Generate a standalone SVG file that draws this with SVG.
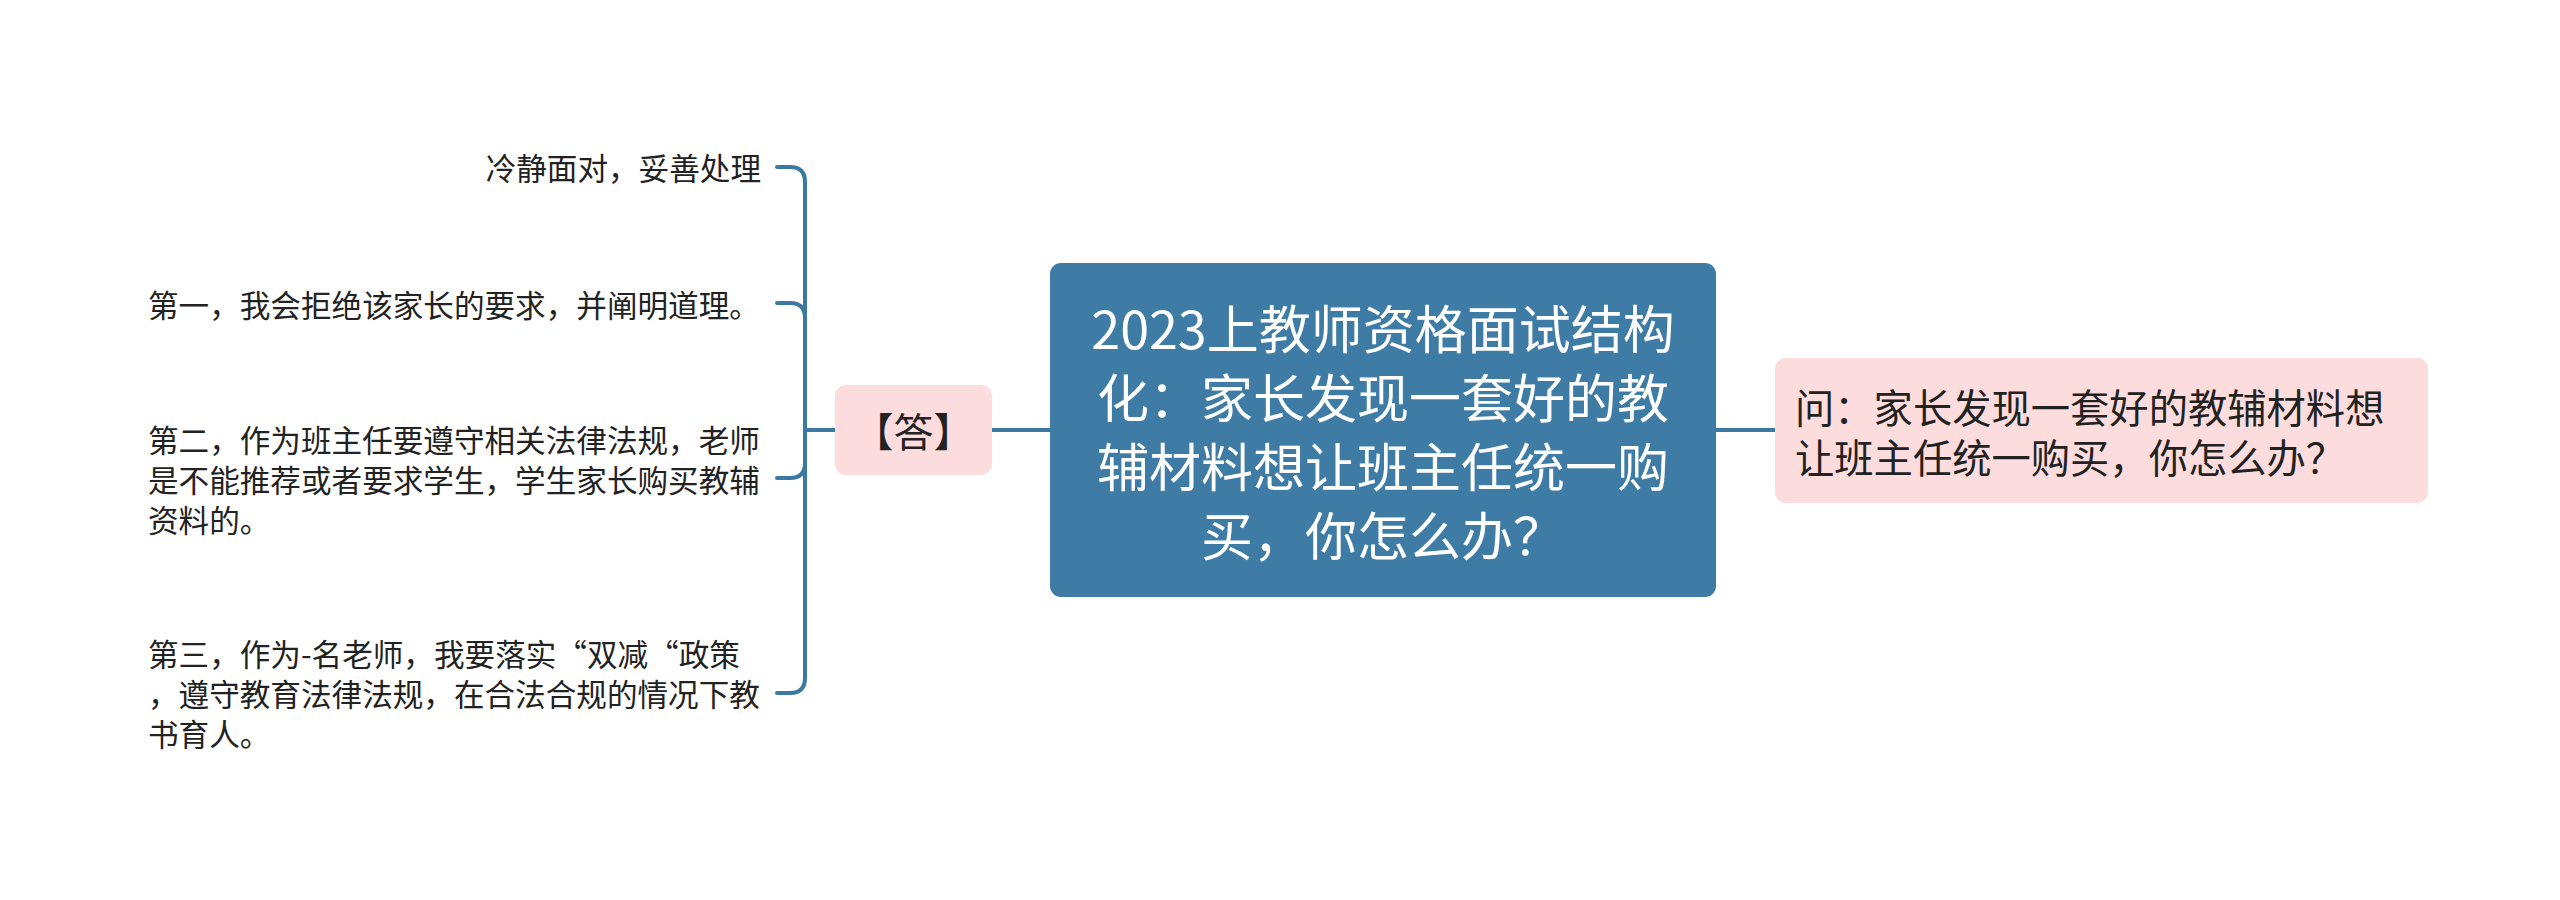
<svg xmlns="http://www.w3.org/2000/svg" width="2560" height="900" viewBox="0 0 2560 900">
<style>
text{font-family:"Noto Sans CJK SC","Noto Sans",sans-serif;dominant-baseline:central}
.conn{fill:none;stroke:#3B79A2;stroke-width:4;stroke-linecap:round}
.pink{fill:#FCDCDC}
.leaf{font-size:30.6px;fill:#222}
.main{font-size:52px;fill:#fff;text-anchor:middle}
.sub{font-size:39.3px;fill:#222}
</style>
<rect width="2560" height="900" fill="#fff"/>
<g id="connectors">
<path class="conn" d="M1716 430 H1775"/>
<path class="conn" d="M992 430 H1050"/>
<path class="conn" d="M835 430 H805"/>
<path class="conn" d="M805 430 V182 Q805 167 790 167 H777"/>
<path class="conn" d="M805 430 V318 Q805 303 790 303 H777"/>
<path class="conn" d="M805 430 V463 Q805 478 790 478 H777"/>
<path class="conn" d="M805 430 V678 Q805 693 790 693 H777"/>
</g>
<g id="center">
<rect x="1050" y="263" width="666" height="334" rx="11" fill="#3E7CA5"/>
<text class="main"><tspan x="1383" y="326">2023上教师资格面试结构</tspan><tspan x="1383" y="395">化：家长发现一套好的教</tspan><tspan x="1383" y="464">辅材料想让班主任统一购</tspan><tspan x="1383" y="533">买，你怎么办？</tspan></text>
</g>
<g id="question">
<rect class="pink" x="1775" y="358" width="653" height="145" rx="11"/>
<text class="sub"><tspan x="1795" y="405">问：家长发现一套好的教辅材料想</tspan><tspan x="1795" y="455">让班主任统一购买，你怎么办？</tspan></text>
</g>
<g id="answer">
<rect class="pink" x="835" y="385" width="157" height="90" rx="11"/>
<text x="913.5" y="430" font-size="40" fill="#222" text-anchor="middle">【答】</text>
</g>
<g id="leaf1">
<text class="leaf" x="761" y="167" text-anchor="end">冷静面对，妥善处理</text>
</g>
<g id="leaf2">
<text class="leaf" x="148" y="304">第一，我会拒绝该家长的要求，并阐明道理。</text>
</g>
<g id="leaf3">
<text class="leaf"><tspan x="148" y="439">第二，作为班主任要遵守相关法律法规，老师</tspan><tspan x="148" y="479">是不能推荐或者要求学生，学生家长购买教辅</tspan><tspan x="148" y="519">资料的。</tspan></text>
</g>
<g id="leaf4">
<text class="leaf"><tspan x="148" y="653">第三，作为-名老师，我要落实“双减“政策</tspan><tspan x="148" y="693">，遵守教育法律法规，在合法合规的情况下教</tspan><tspan x="148" y="733">书育人。</tspan></text>
</g>
</svg>
